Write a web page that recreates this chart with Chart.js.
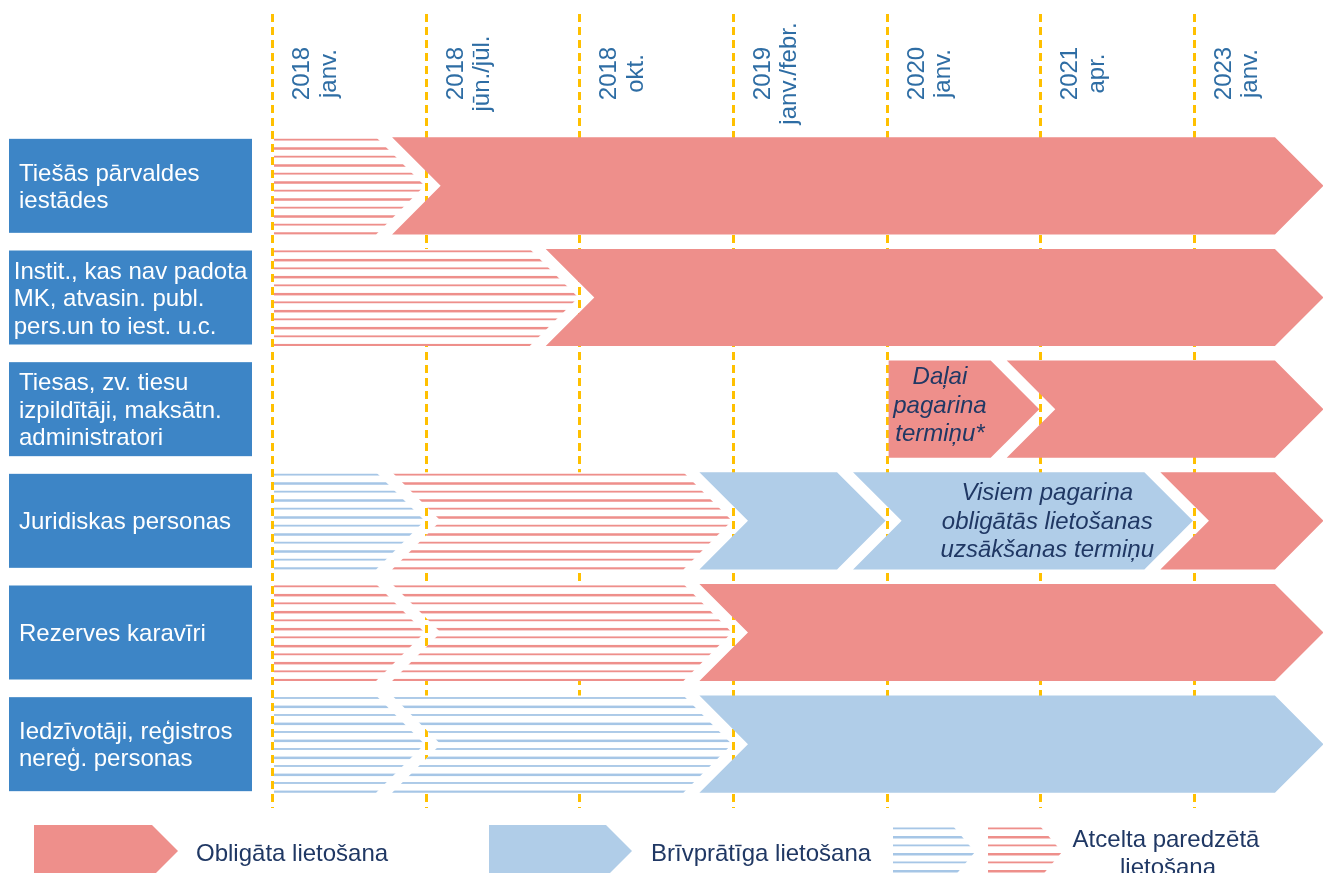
<!DOCTYPE html>
<html>
<head>
<meta charset="utf-8">
<script src="https://cdn.jsdelivr.net/npm/chart.js@4.4.1/dist/chart.umd.min.js"></script>
<style>
html,body{margin:0;padding:0;background:#fff;overflow:hidden}
canvas{display:block}
</style>
</head>
<body>
<canvas id="c" width="1323" height="873"></canvas>
<script>
// ---------- DATA ----------
const END = 6.85; // timeline continues past the last milestone
const milestoneLabels = [
  ['2018', 'janv.'],
  ['2018', 'jūn./jūl.'],
  ['2018', 'okt.'],
  ['2019', 'janv./febr.'],
  ['2020', 'janv.'],
  ['2021', 'apr.'],
  ['2023', 'janv.']
];
const groupLabels = [
  ['Tiešās pārvaldes', 'iestādes'],
  ['Instit., kas nav padota', 'MK, atvasin. publ.', 'pers.un to iest. u.c.'],
  ['Tiesas, zv. tiesu', 'izpildītāji, maksātn.', 'administratori'],
  ['Juridiskas personas'],
  ['Rezerves karavīri'],
  ['Iedzīvotāji, reģistros', 'nereģ. personas']
];
// [row, from milestone, to milestone]
const mandatoryUse = [[0, 1, END], [1, 2, END], [2, 4, 5], [2, 5, END], [3, 6, END], [4, 3, END]];
const voluntaryUse = [[3, 3, 4], [3, 4, 6], [5, 3, END]];
const cancelledMandatory = [[0, 0, 1], [1, 0, 2], [3, 1, 3], [4, 0, 1], [4, 1, 3]];
const cancelledVoluntary = [[3, 0, 1], [5, 0, 1], [5, 1, 3]];
const noteTexts = [
  ['Daļai', 'pagarina', 'termiņu*'],
  ['Visiem pagarina', 'obligātās lietošanas', 'uzsākšanas termiņu']
];
const legendLabels = ['Obligāta lietošana', 'Brīvprātīga lietošana', ['Atcelta paredzētā', 'lietošana']];

// ---------- STYLE ----------
const RED = '#EE8F8B', BLUE = '#B0CDE8', BLUE_LINE = '#A6C6E6', BOX = '#3D85C6';
const GOLD = '#FFC000', TICK = '#2E6DA4', NAVY = '#203864';
const FONT = "'Liberation Sans', Arial, sans-serif";

const rowNames = groupLabels.map(l => l.join(' '));
const series = [
  { label: 'Obligāta lietošana', segs: mandatoryUse, color: RED, hatched: false },
  { label: 'Brīvprātīga lietošana', segs: voluntaryUse, color: BLUE, hatched: false },
  { label: 'Atcelta paredzētā lietošana (obligāta)', segs: cancelledMandatory, color: RED, hatched: true },
  { label: 'Atcelta paredzētā lietošana (brīvprātīga)', segs: cancelledVoluntary, color: BLUE_LINE, hatched: true }
];
// notes placed on segments: [series index, segment index, text index, x shift px, y shift px]
const notePlacement = [[0, 2, 0, -24, -3], [1, 1, 1, 0, 1]];

function hasPredecessor(row, from) {
  return series.some(s => s.segs.some(g => g[0] === row && g[2] === from));
}

function shapePath(ctx, startPx, endPx, cy, h, notched) {
  const half = h / 2, depth = half;
  const top = cy - half, bottom = cy + half;
  const tip = endPx - 1, tr = tip - depth;
  ctx.beginPath();
  if (notched) {
    const notch = startPx + 15, lt = notch - depth;
    ctx.moveTo(lt, top); ctx.lineTo(tr, top); ctx.lineTo(tip, cy); ctx.lineTo(tr, bottom);
    ctx.lineTo(lt, bottom); ctx.lineTo(notch, cy); ctx.closePath();
    return { inner: notch, tip, tr, top, bottom };
  }
  const left = startPx + 2;
  ctx.moveTo(left, top); ctx.lineTo(tr, top); ctx.lineTo(tip, cy); ctx.lineTo(tr, bottom);
  ctx.lineTo(left, bottom); ctx.closePath();
  return { inner: left, tip, tr, top, bottom };
}

function drawStripes(ctx, x0, x1, top, bottom, color) {
  ctx.fillStyle = color;
  let k = 0;
  for (let y = top + 1.5; y < bottom - 1; y += 8.5, k++) {
    const t = (k % 2 === 0) ? 1.8 : 2.5;
    ctx.fillRect(x0, y, x1 - x0, t);
  }
}

const timelinePlugin = {
  id: 'timeline',
  beforeDatasetsDraw(chart) {
    const ctx = chart.ctx, xs = chart.scales.x, ys = chart.scales.y;
    // group boxes
    ctx.save();
    groupLabels.forEach((lines, i) => {
      const cy = ys.getPixelForValue(i);
      const bx = 9, bw = 243, bh = 94;
      ctx.fillStyle = BOX;
      ctx.fillRect(bx, cy - bh / 2, bw, bh);
      ctx.font = '24px ' + FONT;
      ctx.fillStyle = '#FFFFFF';
      ctx.textAlign = 'left';
      ctx.textBaseline = 'alphabetic';
      const maxW = Math.max(...lines.map(l => ctx.measureText(l).width));
      const pad = Math.max(2, Math.min(10, (bw - maxW) / 2));
      const lh = 27.5;
      const firstBase = cy - (lines.length - 1) * lh / 2 + 8.5;
      lines.forEach((l, k) => ctx.fillText(l, bx + pad, firstBase + k * lh));
    });
    ctx.restore();
    // milestone dashed lines
    ctx.save();
    ctx.strokeStyle = GOLD; ctx.lineWidth = 3; ctx.setLineDash([8, 5]);
    milestoneLabels.forEach((lab, i) => {
      const px = Math.round(xs.getPixelForValue(i)) + 0.5;
      ctx.beginPath(); ctx.moveTo(px, 14); ctx.lineTo(px, 808); ctx.stroke();
    });
    ctx.restore();
    // milestone labels (rotated)
    ctx.save();
    ctx.font = '24px ' + FONT;
    ctx.fillStyle = TICK;
    ctx.textAlign = 'center';
    ctx.textBaseline = 'alphabetic';
    milestoneLabels.forEach((lab, i) => {
      const px = xs.getPixelForValue(i);
      ctx.save();
      ctx.translate(px, 73.5);
      ctx.rotate(-Math.PI / 2);
      lab.forEach((l, k) => ctx.fillText(l, 0, 37 + k * 26.5));
      ctx.restore();
    });
    ctx.restore();
  },
  afterDatasetsDraw(chart) {
    const ctx = chart.ctx;
    const geo = {};
    series.forEach((s, di) => {
      const meta = chart.getDatasetMeta(di);
      meta.data.forEach((el, i) => {
        const p = el.getProps(['x', 'y', 'base', 'height'], true);
        const g = s.segs[i];
        const notched = hasPredecessor(g[0], g[1]);
        ctx.save();
        const gm = shapePath(ctx, Math.min(p.x, p.base), Math.max(p.x, p.base), p.y, p.height, notched);
        geo[di + ':' + i] = { gm, cy: p.y };
        if (s.hatched) {
          ctx.fillStyle = '#FFFFFF';
          ctx.fill();
          ctx.clip();
          drawStripes(ctx, Math.min(p.x, p.base) - 60, Math.max(p.x, p.base), gm.top, gm.bottom, s.color);
        } else {
          ctx.fillStyle = s.color;
          ctx.fill();
        }
        ctx.restore();
      });
    });
    // notes
    ctx.save();
    ctx.font = 'italic 24px ' + FONT;
    ctx.fillStyle = NAVY;
    ctx.textAlign = 'center';
    ctx.textBaseline = 'middle';
    notePlacement.forEach(n => {
      const g = geo[n[0] + ':' + n[1]];
      if (!g) return;
      const lines = noteTexts[n[2]];
      const cx = (g.gm.inner + g.gm.tip) / 2 + n[3];
      const lh = 28.5;
      const y0 = g.cy - (lines.length - 1) * lh / 2 + n[4];
      lines.forEach((l, k) => ctx.fillText(l, cx, y0 + k * lh));
    });
    ctx.restore();
  },
  afterDraw(chart) {
    const ctx = chart.ctx;
    ctx.save();
    const pent = (x0, x1, top, bottom, depth) => {
      const cy = (top + bottom) / 2;
      ctx.beginPath();
      ctx.moveTo(x0, top); ctx.lineTo(x1 - depth, top); ctx.lineTo(x1, cy);
      ctx.lineTo(x1 - depth, bottom); ctx.lineTo(x0, bottom); ctx.closePath();
    };
    ctx.fillStyle = RED; pent(34, 178, 825, 877, 26); ctx.fill();
    ctx.fillStyle = BLUE; pent(489, 632, 825, 877, 26); ctx.fill();
    // hatched icons
    [[893, 975, BLUE_LINE], [988, 1062, RED]].forEach(([a, b, c]) => {
      ctx.save();
      pent(a, b, 826, 878, 22);
      ctx.clip();
      drawStripes(ctx, a, b, 826, 878, c);
      ctx.restore();
    });
    ctx.font = '24px ' + FONT;
    ctx.fillStyle = NAVY;
    ctx.textBaseline = 'alphabetic';
    ctx.textAlign = 'left';
    ctx.fillText(legendLabels[0], 196, 861);
    ctx.fillText(legendLabels[1], 651, 861);
    ctx.textAlign = 'center';
    ctx.fillText(legendLabels[2][0], 1166, 847);
    ctx.fillText(legendLabels[2][1], 1168, 875);
    ctx.restore();
  }
};

new Chart(document.getElementById('c'), {
  type: 'bar',
  data: {
    labels: rowNames,
    datasets: series.map(s => ({
      label: s.label,
      data: s.segs.map(g => ({ y: rowNames[g[0]], x: [g[1], g[2]] })),
      backgroundColor: 'rgba(0,0,0,0)',
      borderWidth: 0,
      grouped: false,
      categoryPercentage: 1,
      barPercentage: 0.87
    }))
  },
  options: {
    indexAxis: 'y',
    responsive: false,
    maintainAspectRatio: false,
    animation: false,
    layout: { padding: { left: 272, right: 0, top: 130, bottom: 73 } },
    scales: {
      x: { type: 'linear', position: 'top', min: 0, max: 6.84, display: false, ticks: { stepSize: 1 } },
      y: { type: 'category', labels: rowNames, offset: true, display: false }
    },
    plugins: { legend: { display: false }, tooltip: { enabled: false } }
  },
  plugins: [timelinePlugin]
});
</script>
</body>
</html>
